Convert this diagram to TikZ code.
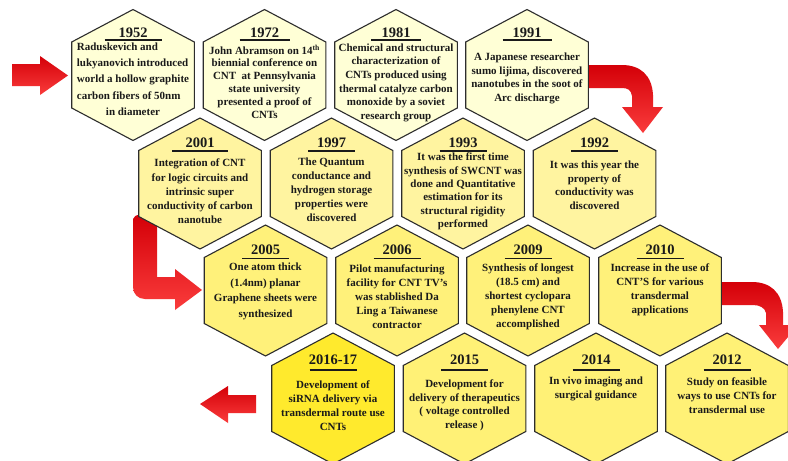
\documentclass[tikz,border=0pt]{standalone}
\usepackage{fontspec}
\setmainfont{Liberation Serif}
\usetikzlibrary{calc}
\definecolor{rowA}{RGB}{255,255,214}
\definecolor{rowB}{RGB}{255,244,160}
\definecolor{rowC}{RGB}{255,241,122}
\definecolor{rowD}{RGB}{255,241,118}
\definecolor{hot}{RGB}{255,234,45}
\definecolor{ink}{RGB}{26,26,26}
\definecolor{edge}{RGB}{45,45,45}
\definecolor{arrowdark}{RGB}{212,0,8}
\definecolor{arrowlight}{RGB}{250,60,60}
\tikzset{
  hexline/.style={draw=edge, line width=1.1pt, line join=miter},
  yearlbl/.style={font=\fontsize{14.5}{16}\selectfont\bfseries, text=ink, inner sep=0pt},
  yearrule/.style={draw=ink, line width=1.3pt},
  bodylbl/.style={text=ink, inner sep=0pt, align=center},
  redarrow/.style={draw=none, top color=arrowdark, bottom color=arrowlight},
}
% #1 name, #2 cx, #3 cy, #4 fill, #5 year, #6 rule half width, #7 first line offset, #8 line spacing, #9 text
\newcommand\hexcell[9]{%
  \coordinate (h#1) at (#2,#3);
  \path[hexline, fill=#4] (#2,{#3-65.5}) -- ({#2+61.3},{#3-33}) -- ({#2+61.3},{#3+33})
     -- (#2,{#3+65.5}) -- ({#2-61.3},{#3+33}) -- ({#2-61.3},{#3-33}) -- cycle;
  \node[yearlbl] (y#1) at (#2,{#3-65.5+\yoff}) {#5};
  \draw[yearrule] ({#2-#6},{#3-65.5+\roff}) -- ({#2+#6},{#3-65.5+\roff});
  \node[bodylbl, font={\fontsize{11}{#8}\selectfont\bfseries}, anchor=north] (t#1) at (#2,{#3-65.5+#7-5}) {#9};
}
\begin{document}
\begin{tikzpicture}[x=1pt,y=-1pt]
\useasboundingbox (0,0) rectangle (788,461);
\clip (0,0) rectangle (788,461);
\fill[white] (0,0) rectangle (788,461);

% arrows
\path[redarrow] (12,64) -- (40,64) -- (40,56) -- (68,75.5) -- (40,95) -- (40,86) -- (12,86) -- cycle;
\path[redarrow] (580,65) -- (622,65) .. controls (640,65) and (652,75) .. (653,95) -- (653,107)
   -- (663,107) -- (643,133) -- (622,107) -- (632,107) -- (632,96)
   .. controls (631,90) and (628,88) .. (622,88) -- (580,88) -- cycle;
\path[redarrow] (133,219) .. controls (134,216) and (136,215) .. (140,215) -- (157,215) -- (157,277) -- (175,277) -- (175,269) -- (202,290)
   -- (175,310) -- (175,299) -- (145,299) .. controls (138,299) and (133,294) .. (133,287) -- cycle;
\path[redarrow] (712,282) -- (752,282) .. controls (770,282) and (782,292) .. (783,312) -- (783,325)
   -- (798,325) -- (778,349) -- (759,325) -- (766,325) -- (766,313)
   .. controls (765,308) and (760,305) .. (753,305) -- (712,305) -- cycle;
\path[redarrow] (256,395) -- (228,395) -- (228,386) -- (200,404) -- (228,423) -- (228,413) -- (256,413) -- cycle;

% row 1
\def\yoff{23}\def\roff{30.5}
\hexcell{a1}{133}{75}{rowA}{1952}{28.5}{34}{16.3}{\begin{tabular}{@{}l@{}}Raduskevich and\\lukyanovich introduced\\world a hollow graphite\\carbon fibers of 50nm\\\multicolumn{1}{@{}c@{}}{in diameter}\end{tabular}}
\hexcell{a2}{264.5}{75}{rowA}{1972}{25}{40}{12.9}{John Abramson on 14\textsuperscript{th}\\biennial conference on\\CNT\ \ at Pennsylvania\\state university\\presented a proof of\\CNTs}
\hexcell{a3}{396}{75}{rowA}{1981}{25}{39}{13.6}{Chemical and structural\\characterization of\\CNTs produced using\\thermal catalyze carbon\\monoxide by a soviet\\research group}
\hexcell{a4}{527}{75}{rowA}{1991}{24.5}{48}{13.7}{A Japanese researcher\\sumo lijima, discovered\\nanotubes in the soot of\\Arc discharge}

% row 2
\def\yoff{25}\def\roff{33}
\hexcell{b1}{200}{183.5}{rowB}{2001}{28}{46}{14.2}{Integration of CNT\\for logic circuits and\\intrinsic super\\conductivity of carbon\\nanotube}
\hexcell{b2}{331.5}{183.5}{rowB}{1997}{23.5}{45}{14}{The Quantum\\conductance and\\hydrogen storage\\properties were\\discovered}
\hexcell{b3}{463}{183.5}{rowB}{1993}{23.5}{40}{13.3}{It was the first time\\synthesis of SWCNT was\\done and Quantitative\\estimation for its\\structural rigidity\\performed}
\hexcell{b4}{594.5}{183.5}{rowB}{1992}{23.5}{48}{13.5}{It was this year the\\property of\\conductivity was\\discovered}

% row 3
\def\yoff{25}\def\roff{33.5}
\hexcell{c1}{265.5}{290.5}{rowC}{2005}{23.5}{43}{15.5}{One atom thick\\(1.4nm) planar\\Graphene sheets were\\synthesized}
\hexcell{c2}{397}{290.5}{rowC}{2006}{23.5}{45}{13.8}{Pilot manufacturing\\facility for CNT TV’s\\was stablished Da\\Ling a Taiwanese\\contractor}
\hexcell{c3}{528}{290.5}{rowC}{2009}{23.5}{44}{13.8}{Synthesis of longest\\(18.5 cm) and\\shortest cyclopara\\phenylene CNT\\accomplished}
\hexcell{c4}{660}{290.5}{rowC}{2010}{23.5}{44}{13.8}{Increase in the use of\\CNT'S for various\\transdermal\\applications}

% row 4
\def\yoff{26.5}\def\roff{37}
\hexcell{d1}{333}{398.5}{hot}{2016-17}{23.5}{53}{13.9}{Development of\\siRNA delivery via\\transdermal route use\\CNTs}
\hexcell{d2}{464.5}{398.5}{rowD}{2015}{23.5}{51.5}{13.7}{Development for\\delivery of therapeutics\\( voltage controlled\\release )}
\hexcell{d3}{596}{398.5}{rowD}{2014}{23.5}{48.5}{14}{In vivo imaging and\\surgical guidance}
\hexcell{d4}{727}{398.5}{rowD}{2012}{23.5}{49.5}{14}{Study on feasible\\ways to use CNTs for\\transdermal use}
\end{tikzpicture}
\end{document}
